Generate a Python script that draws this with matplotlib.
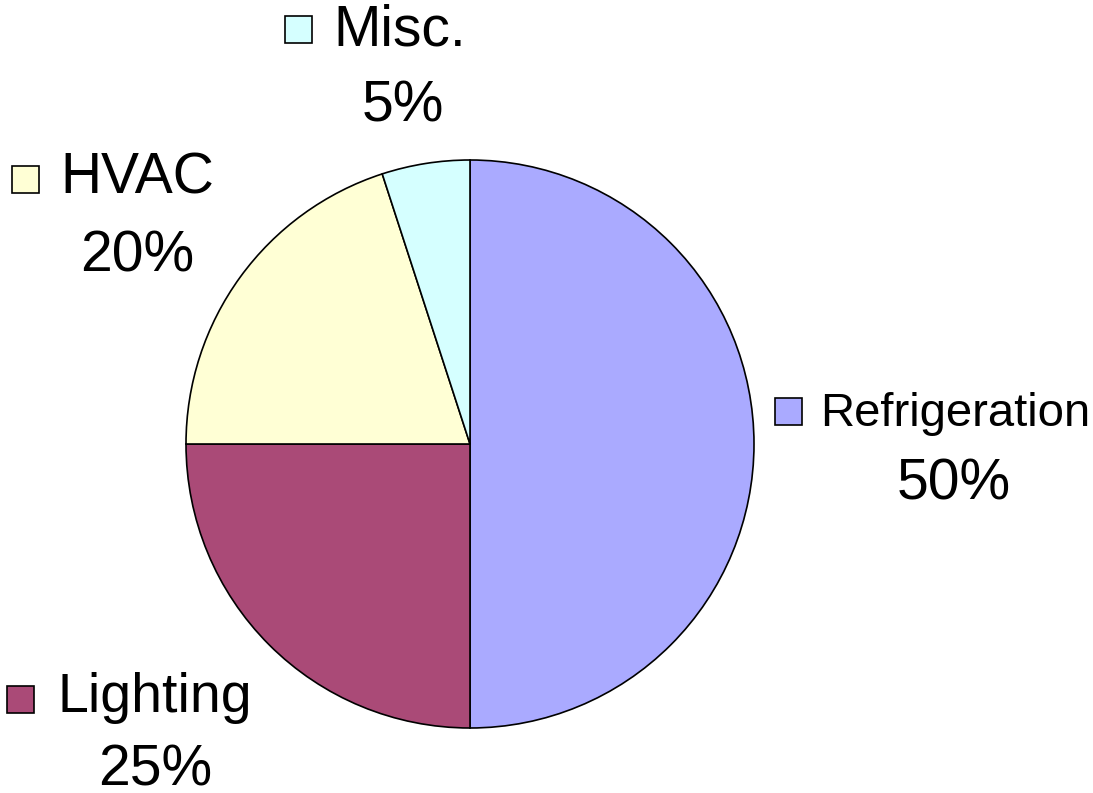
import matplotlib.pyplot as plt
from matplotlib.patches import Rectangle

plt.rcParams['font.family'] = ['Liberation Sans', 'DejaVu Sans']

# data (clockwise from 12 o'clock)
categories = ['Refrigeration', 'Lighting', 'HVAC', 'Misc.']
shares = [50, 25, 20, 5]
colors = ['#AAAAFF', '#AA4A77', '#FFFFD5', '#D5FFFF']

W, H = 1093, 793
fig = plt.figure(figsize=(W / 100, H / 100), dpi=100)
ax = fig.add_axes([0, 0, 1, 1])

# pie in pixel-like coordinates (y measured from bottom)
ax.pie(shares, colors=colors, startangle=90, counterclock=False,
       center=(470, H - 444), radius=284,
       wedgeprops=dict(edgecolor='black', linewidth=1.2))
ax.set_xlim(0, W)
ax.set_ylim(0, H)
ax.set_aspect('equal')
ax.axis('off')

# label layout: marker box (x, y top), name (x, baseline, size), pct (center x, baseline)
label_pos = {
    'Refrigeration': ((775, 398), (820, 426, 34), (954, 499)),
    'Lighting': ((7, 686), (57, 712, 40), (155, 786)),
    'HVAC': ((12, 166), (60, 194, 41), (137, 271)),
    'Misc.': ((285, 16), (333, 46, 41), (403, 121)),
}

for name, val, col in zip(categories, shares, colors):
    (bx, by), (tx, ty, fs), (px, py) = label_pos[name]
    box = 27
    ax.add_patch(Rectangle((bx, H - by - box), box, box, facecolor=col,
                           edgecolor='black', linewidth=1.2, clip_on=False))
    ax.text(tx, H - ty, name, fontsize=fs, ha='left', va='baseline', color='black')
    ax.text(px, H - py, f'{val}%', fontsize=41, ha='center', va='baseline', color='black')

fig.savefig('out.png', dpi=100, facecolor='white')
